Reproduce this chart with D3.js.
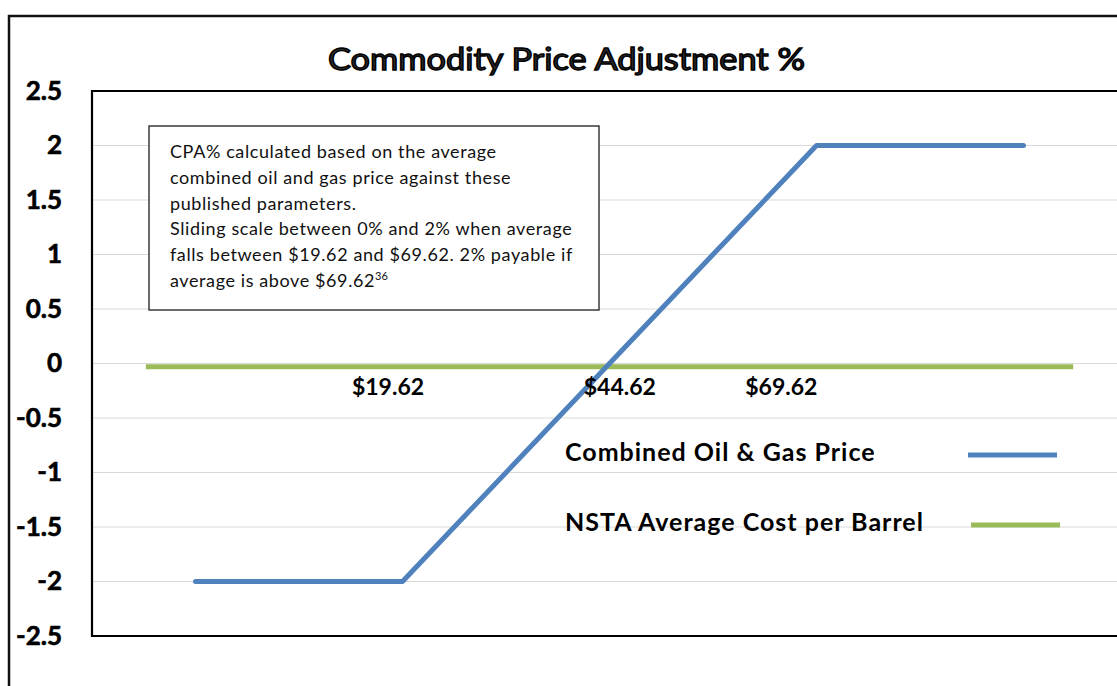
<!DOCTYPE html>
<html>
<head>
<meta charset="utf-8">
<script src="https://cdn.jsdelivr.net/npm/d3@7/dist/d3.min.js"></script>
<style>
  body { margin: 0; background: #fff; }
  svg { display: block; font-family: Lato, "Open Sans", sans-serif; }
</style>
</head>
<body>
<div id="chart"></div>
<script>
// chart data
const categories = [0, 1, 2, 3, 4];
const oilGasPrice = [-2, -2, 0, 2, 2];
const nstaX = [-0.24, 4.24];
const nstaCost = [-0.03, -0.03];
const yTicks = [2.5, 2, 1.5, 1, 0.5, 0, -0.5, -1, -1.5, -2, -2.5];
const priceLabels = ['$19.62', '$44.62', '$69.62'];
const priceLabelPos = [0.93, 2.05, 2.83];
const noteLines = [
  'CPA% calculated based on the average',
  'combined oil and gas price against these',
  'published parameters.',
  'Sliding scale between 0% and 2% when average',
  'falls between $19.62 and $69.62. 2% payable if',
  'average is above $69.62'
];
const legendNames = ['Combined Oil & Gas Price', 'NSTA Average Cost per Barrel'];

const width = 1117, height = 686;
const plot = { left: 92, top: 91, right: 1127, bottom: 636 };
const blue = '#4f81bd', green = '#9bbb59';

const svg = d3.select('#chart').append('svg')
  .attr('width', width)
  .attr('height', height);

// x: category bands, points at the middle
const band = (plot.right - plot.left) / categories.length;
const x = d3.scaleLinear()
  .domain([0, 1])
  .range([plot.left + band / 2, plot.left + band * 1.5]);
const y = d3.scaleLinear().domain([-2.5, 2.5]).range([plot.bottom, plot.top]);

// outer frame
svg.append('rect')
  .attr('x', 9).attr('y', 16)
  .attr('width', 1200).attr('height', 800)
  .attr('fill', 'none')
  .attr('stroke', '#111')
  .attr('stroke-width', 2.5);

// title (outlined, stretched wide like the original)
svg.append('text')
  .attr('x', 328).attr('y', 70)
  .attr('font-size', 30)
  .attr('font-weight', 'normal')
  .attr('textLength', 477)
  .attr('lengthAdjust', 'spacingAndGlyphs')
  .attr('stroke', '#000').attr('stroke-width', 1.4)
  .attr('fill', '#2b2b2b')
  .text('Commodity Price Adjustment %');

// gridlines
svg.append('g')
  .selectAll('line')
  .data(yTicks.filter(d => Math.abs(d) < 2.5))
  .join('line')
    .attr('x1', plot.left).attr('x2', width)
    .attr('y1', d => y(d)).attr('y2', d => y(d))
    .attr('stroke', '#d9d9d9')
    .attr('stroke-width', 1.2);

// y axis labels
const yAxis = d3.axisLeft(y).tickValues(yTicks).tickSize(0).tickPadding(30)
  .tickFormat(d => String(d));
svg.append('g')
  .attr('transform', `translate(${plot.left},0)`)
  .call(yAxis)
  .call(g => g.select('.domain').remove())
  .call(g => g.selectAll('text')
    .attr('font-family', 'Lato, "Open Sans", sans-serif')
    .attr('font-size', 26)
    .attr('font-weight', 'bold')
    .attr('fill', '#000')
    .attr('stroke', '#000').attr('stroke-width', 0.6));

// plot frame
svg.append('path')
  .attr('d', `M${width + 5},${plot.top}H${plot.left}V${plot.bottom}H${width + 5}`)
  .attr('fill', 'none')
  .attr('stroke', '#000')
  .attr('stroke-width', 2.2);

// series lines
const line = d3.line().x(d => x(d[0])).y(d => y(d[1]));

svg.append('path')
  .datum(d3.zip(nstaX, nstaCost))
  .attr('d', line)
  .attr('fill', 'none')
  .attr('stroke', green)
  .attr('stroke-width', 5);

svg.append('path')
  .datum(d3.zip(categories, oilGasPrice))
  .attr('d', line)
  .attr('fill', 'none')
  .attr('stroke', blue)
  .attr('stroke-width', 5)
  .attr('stroke-linecap', 'round')
  .attr('stroke-linejoin', 'round');

// price labels under the zero line
svg.append('g')
  .selectAll('text')
  .data(priceLabels)
  .join('text')
    .attr('x', (d, i) => x(priceLabelPos[i]))
    .attr('y', 395)
    .attr('text-anchor', 'middle')
    .attr('font-size', 23)
    .attr('font-weight', 'bold')
    .attr('fill', '#000')
    .text(d => d);

// note box
const note = svg.append('g');
note.append('rect')
  .attr('x', 149).attr('y', 126)
  .attr('width', 450).attr('height', 184)
  .attr('fill', '#fff')
  .attr('stroke', '#3a3a3a')
  .attr('stroke-width', 1.5);
const noteText = note.append('text')
  .attr('font-size', 18)
  .attr('letter-spacing', 0.6)
  .attr('fill', '#111');
noteLines.forEach((t, i) => {
  noteText.append('tspan')
    .attr('x', 170)
    .attr('y', 158 + i * 25.8)
    .text(t);
});
noteText.append('tspan')
  .attr('font-size', 11)
  .attr('letter-spacing', 0)
  .attr('dy', -7)
  .text('36');

// legend
const legend = svg.append('g');
legendNames.forEach((name, i) => {
  const ly = 452 + i * 70;
  legend.append('text')
    .attr('x', 565).attr('y', ly + 9)
    .attr('font-size', 25)
    .attr('font-weight', 'bold')
    .attr('letter-spacing', 1)
    .attr('fill', '#000')
    .text(name);
  legend.append('line')
    .attr('x1', 968 + i * 3).attr('x2', 1057 + i * 3)
    .attr('y1', ly + 3).attr('y2', ly + 3)
    .attr('stroke', i === 0 ? blue : green)
    .attr('stroke-width', 5);
});
</script>
</body>
</html>
